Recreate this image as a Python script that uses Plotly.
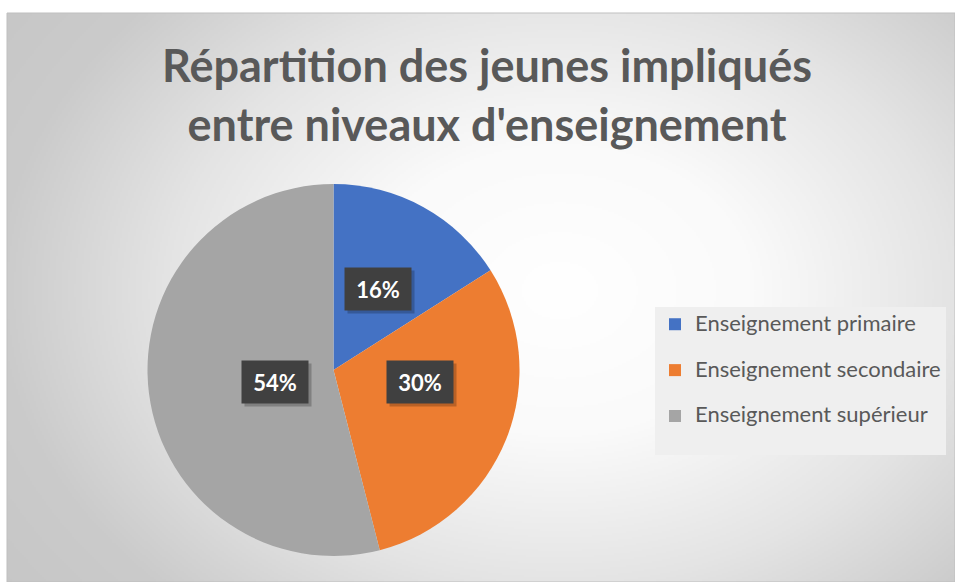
import base64
import struct
import zlib

import numpy as np
import plotly.graph_objects as go

# ---------------- data ----------------
categories = ["Enseignement primaire", "Enseignement secondaire", "Enseignement supérieur"]
values = [16, 30, 54]
colors = ["#4472C4", "#ED7D31", "#A5A5A5"]
title_lines = ["Répartition des jeunes impliqués", "entre niveaux d'enseignement"]

# ---------------- layout geometry (pixels) ----------------
W, H = 955, 582
CX0, CY0 = 7, 13            # chart area top-left
PIE_CX, PIE_CY, PIE_R = 333.5, 370, 186
LABEL_R = 0.5               # label distance as fraction of radius


def px_to_paper(x, y):
    return x / W, 1 - y / H


def png_data_uri(arr):
    h, w, _ = arr.shape
    raw = b"".join(b"\x00" + arr[r].tobytes() for r in range(h))

    def chunk(tag, data):
        c = struct.pack(">I", len(data)) + tag + data
        return c + struct.pack(">I", zlib.crc32(tag + data) & 0xFFFFFFFF)

    png = (b"\x89PNG\r\n\x1a\n"
           + chunk(b"IHDR", struct.pack(">IIBBBBB", w, h, 8, 2, 0, 0, 0))
           + chunk(b"IDAT", zlib.compress(raw, 9))
           + chunk(b"IEND", b""))
    return "data:image/png;base64," + base64.b64encode(png).decode()


# radial background gradient of the chart area
S = 2
gw, gh = (W - CX0) // S, (H - CY0) // S
xs = CX0 + (np.arange(gw) + 0.5) * S
ys = CY0 + (np.arange(gh) + 0.5) * S
XX, YY = np.meshgrid(xs, ys)
t = np.sqrt(((XX - 560) / 560) ** 2 + ((YY - 290) / 420) ** 2)
g = np.interp(t, [0, 0.35, 0.7, 1.0, 1.3], [255, 250, 228, 203, 197])
img = np.repeat(g[:, :, None], 3, axis=2).astype(np.uint8)
bg_uri = png_data_uri(img)

fig = go.Figure()

# legend entries: larger text on the first line, an empty second line for spacing
legend_labels = [f"<span style='font-size:22px'>{c}</span><br>" for c in categories]
dx0, dy1 = px_to_paper(PIE_CX - PIE_R, PIE_CY - PIE_R)
dx1, dy0 = px_to_paper(PIE_CX + PIE_R, PIE_CY + PIE_R)

fig.add_trace(go.Pie(
    labels=legend_labels,
    values=values,
    customdata=categories,
    hovertemplate="%{customdata}: %{percent}<extra></extra>",
    marker=dict(colors=colors, line=dict(width=0)),
    sort=False,
    direction="clockwise",
    rotation=0,
    textinfo="none",
    domain=dict(x=[dx0, dx1], y=[dy0, dy1]),
))

# percentage labels in dark boxes, placed at the middle angle of each slice
total = sum(values)
annotations = []
cum = 0
for v in values:
    mid = (cum + v / 2) / total * 2 * np.pi
    cum += v
    lx = PIE_CX + LABEL_R * PIE_R * np.sin(mid)
    ly = PIE_CY - LABEL_R * PIE_R * np.cos(mid)
    ax, ay = px_to_paper(lx, ly)
    pct = f"{round(v / total * 100)}%"
    # shadow
    annotations.append(dict(
        x=ax, y=ay, xref="paper", yref="paper", text=" ", showarrow=False,
        width=66, height=42, bgcolor="rgba(0,0,0,0.22)", xshift=3, yshift=-3,
        borderpad=0,
    ))
    annotations.append(dict(
        x=ax, y=ay, xref="paper", yref="paper", text=pct, showarrow=False,
        width=66, height=42, bgcolor="#404040", borderpad=0,
        font=dict(family="Lato", size=22, color="white", weight="bold"),
        align="center", valign="middle",
    ))

bx0, by0 = px_to_paper(CX0, CY0)
lgx, lgy = px_to_paper(655, 307)
tx, ty = px_to_paper(487, 82)

fig.update_layout(
    width=W, height=H,
    margin=dict(l=0, r=0, t=0, b=0),
    paper_bgcolor="white",
    plot_bgcolor="rgba(0,0,0,0)",
    images=[dict(
        source=bg_uri, xref="paper", yref="paper",
        x=bx0, y=by0, sizex=1 - bx0, sizey=by0,
        xanchor="left", yanchor="top", sizing="stretch", layer="below",
    )],
    shapes=[dict(
        type="rect", xref="paper", yref="paper",
        x0=bx0, y0=0, x1=1, y1=by0,
        line=dict(color="#bfbfbf", width=1), fillcolor="rgba(0,0,0,0)",
        layer="below",
    )],
    title=dict(
        text="<br>".join(title_lines),
        x=tx, xanchor="center", y=ty, yanchor="middle",
        font=dict(family="Lato", size=45, color="#595959", weight="bold"),
    ),
    legend=dict(
        x=lgx, y=lgy, xanchor="left", yanchor="top",
        bgcolor="#efefef", valign="top",
        font=dict(family="Lato", size=16.5, color="#595959"),
    ),
    annotations=annotations,
)

fig.write_html("out.html")
